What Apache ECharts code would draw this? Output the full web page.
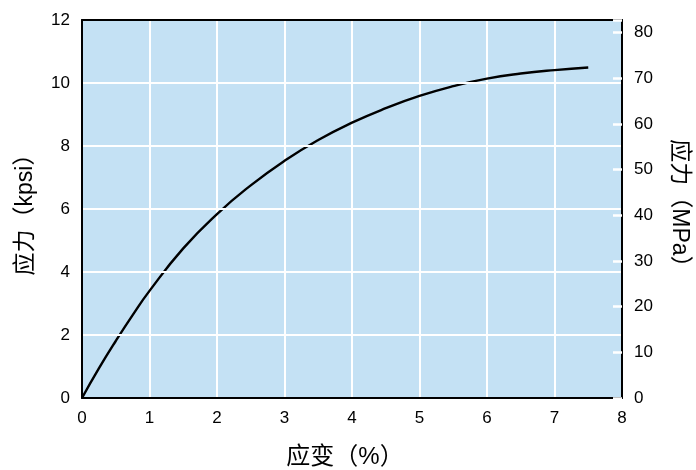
<!DOCTYPE html>
<html>
<head>
<meta charset="utf-8">
<script src="https://cdn.jsdelivr.net/npm/echarts@6/dist/echarts.min.js"></script>
<style>
  html, body { margin: 0; padding: 0; background: #ffffff; }
  #chart { width: 696px; height: 470px; }
</style>
</head>
<body>
<div id="chart"></div>
<script>
// Stress–strain curve: strain (%) against stress (kpsi), with a MPa scale on the right
const strain = [0, 0.25, 0.5, 0.75, 1.0, 1.5, 2.0, 2.5, 3.0, 3.5, 4.0, 4.5, 5.0, 5.5, 6.0, 6.5, 7.0, 7.5];
const stressKpsi = [0, 0.94, 1.81, 2.63, 3.40, 4.75, 5.84, 6.75, 7.53, 8.19, 8.74, 9.20, 9.59, 9.90, 10.14, 10.30, 10.41, 10.49];
const strainTicks = [0, 1, 2, 3, 4, 5, 6, 7, 8];
const kpsiTicks = [0, 2, 4, 6, 8, 10, 12];
const mpaTicks = [0, 10, 20, 30, 40, 50, 60, 70, 80];
const KPSI_TO_MPA = 6.894757;
const kpsiMax = 12;

const fontLatin = '"Liberation Sans", Arial, sans-serif';
const fontName = '"Liberation Sans", "Noto Sans CJK SC", sans-serif';

const chart = echarts.init(document.getElementById('chart'), null, { renderer: 'canvas' });

const frameLine = { show: true, onZero: false, lineStyle: { color: '#000', width: 2 } };
const gridLine = { show: true, showMinLine: false, showMaxLine: false, lineStyle: { color: '#ffffff', width: 2 } };
const labelStyle = { color: '#000', fontSize: 17, fontFamily: fontLatin, margin: 12 };

chart.setOption({
  animation: false,
  grid: {
    left: 82, right: 74, top: 20, bottom: 72,
    outerBoundsMode: 'none',
    containLabel: false,
    show: true,
    backgroundColor: '#c4e1f4',
    borderWidth: 0
  },
  xAxis: [
    {
      type: 'value',
      min: strainTicks[0], max: strainTicks[strainTicks.length - 1], interval: 1,
      name: '应变（%）',
      nameLocation: 'middle',
      nameGap: 47,
      nameTextStyle: { color: '#000', fontSize: 24, fontFamily: fontName, padding: [0, 14, 0, 0] },
      axisLine: frameLine,
      axisTick: { show: false },
      axisLabel: labelStyle,
      splitLine: gridLine,
      z: 10
    },
    {
      // top edge of the frame
      type: 'value',
      position: 'top',
      min: strainTicks[0], max: strainTicks[strainTicks.length - 1],
      axisLine: frameLine,
      axisTick: { show: false },
      axisLabel: { show: false },
      splitLine: { show: false },
      z: 12
    }
  ],
  yAxis: [
    {
      type: 'value',
      min: kpsiTicks[0], max: kpsiMax, interval: 2,
      name: '应力（kpsi）',
      nameLocation: 'middle',
      nameGap: 45,
      nameRotate: 90,
      nameTextStyle: { color: '#000', fontSize: 23, fontFamily: fontName },
      axisLine: frameLine,
      axisTick: { show: false },
      axisLabel: labelStyle,
      splitLine: gridLine,
      z: 12
    },
    {
      type: 'value',
      position: 'right',
      min: mpaTicks[0], max: kpsiMax * KPSI_TO_MPA, interval: 10,
      name: '应力（MPa）',
      nameLocation: 'middle',
      nameGap: 46,
      nameRotate: -90,
      nameTextStyle: { color: '#000', fontSize: 23, fontFamily: fontName },
      axisLine: frameLine,
      axisTick: {
        show: true, inside: true, length: 9,
        lineStyle: { color: '#ffffff', width: 2.5 }
      },
      axisLabel: Object.assign({}, labelStyle, {
        formatter: v => (mpaTicks.indexOf(Math.round(v * 1000) / 1000) >= 0 ? String(v) : '')
      }),
      splitLine: { show: false },
      z: 12
    }
  ],
  series: [{
    type: 'line',
    xAxisIndex: 0,
    yAxisIndex: 0,
    data: strain.map((s, i) => [s, stressKpsi[i]]),
    smooth: true,
    showSymbol: false,
    lineStyle: { color: '#000000', width: 2.4 },
    z: 11
  }]
});
</script>
</body>
</html>
